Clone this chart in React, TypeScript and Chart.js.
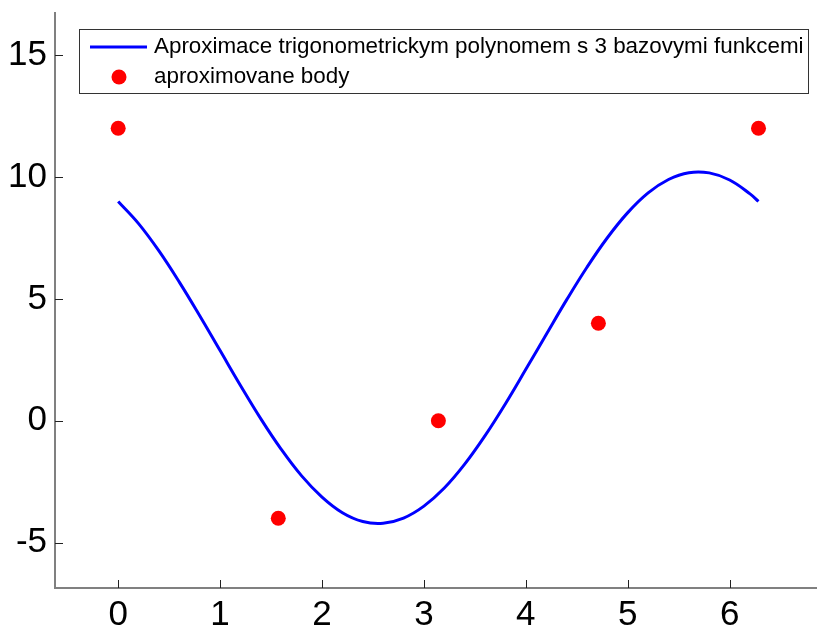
import React, { useEffect, useRef } from "react";
import { Chart, registerables } from "chart.js";

Chart.register(...registerables);

// Approximating curve sampled along x
const curveX = [
  0, 0.2, 0.4, 0.6, 0.8, 1.0, 1.2, 1.4, 1.6, 1.8, 2.0, 2.2, 2.4, 2.6, 2.8, 3.0,
  3.2, 3.4, 3.6, 3.8, 4.0, 4.2, 4.4, 4.6, 4.8, 5.0, 5.2, 5.4, 5.6, 5.8, 6.0, 6.2, 6.283,
];
const curveY = [
  9.0, 8.09, 6.97, 5.69, 4.31, 2.88, 1.45, 0.08, -1.17, -2.26, -3.13, -3.77, -4.13,
  -4.2, -3.99, -3.5, -2.76, -1.78, -0.61, 0.7, 2.11, 3.54, 4.96, 6.3, 7.51, 8.54,
  9.35, 9.9, 10.18, 10.17, 9.88, 9.31, 9.0,
];

// Approximated points
const pointX = [0, 1.571, 3.142, 4.712, 6.283];
const pointY = [12, -4, 0, 4, 12];

const xTicks = [0, 1, 2, 3, 4, 5, 6];
const yTicks = [-5, 0, 5, 10, 15];

const legendLabels = [
  "Aproximace trigonometrickym polynomem s 3 bazovymi funkcemi",
  "aproximovane body",
];

const FONT = '"Liberation Sans", Arial, Helvetica, sans-serif';

const innerTicksAndLegend = {
  id: "innerTicksAndLegend",
  afterDraw(chart: any) {
    const ctx = chart.ctx;
    const xs = chart.scales.x;
    const ys = chart.scales.y;
    const area = chart.chartArea;
    ctx.save();
    // inward tick marks
    ctx.strokeStyle = "#222";
    ctx.lineWidth = 1;
    ctx.beginPath();
    xTicks.forEach((v) => {
      const px = Math.round(xs.getPixelForValue(v)) + 0.5;
      ctx.moveTo(px, area.bottom);
      ctx.lineTo(px, area.bottom - 8);
    });
    yTicks.forEach((v) => {
      const py = Math.round(ys.getPixelForValue(v)) + 0.5;
      ctx.moveTo(area.left, py);
      ctx.lineTo(area.left + 8, py);
    });
    ctx.stroke();

    // legend box
    const bx = 79.5, by = 29.5, bw = 729, bh = 64;
    ctx.fillStyle = "#fff";
    ctx.fillRect(bx, by, bw, bh);
    ctx.strokeStyle = "#333";
    ctx.lineWidth = 1;
    ctx.strokeRect(bx, by, bw, bh);

    // line sample
    ctx.strokeStyle = "#0000ff";
    ctx.lineWidth = 3;
    ctx.beginPath();
    ctx.moveTo(90, 47);
    ctx.lineTo(147, 47);
    ctx.stroke();

    // marker sample
    ctx.fillStyle = "#ff0000";
    ctx.beginPath();
    ctx.arc(119, 77, 7.5, 0, Math.PI * 2);
    ctx.fill();

    ctx.fillStyle = "#000";
    ctx.font = `22.4px ${FONT}`;
    ctx.textBaseline = "middle";
    ctx.textAlign = "left";
    ctx.fillText(legendLabels[0], 154, 47);
    ctx.fillText(legendLabels[1], 154, 77);
    ctx.restore();
  },
};

export default function App() {
  const canvasRef = useRef<HTMLCanvasElement | null>(null);

  useEffect(() => {
    document.body.style.margin = "0";
    const canvas = canvasRef.current;
    if (!canvas) return;
    const chart = new Chart(canvas, {
      type: "scatter",
      data: {
        datasets: [
          {
            label: legendLabels[0],
            data: curveX.map((x, i) => ({ x, y: curveY[i] })),
            showLine: true,
            borderColor: "#0000ff",
            borderWidth: 3,
            pointRadius: 0,
            tension: 0.4,
            fill: false,
          },
          {
            label: legendLabels[1],
            data: pointX.map((x, i) => ({ x, y: pointY[i] })),
            showLine: false,
            pointRadius: 7.5,
            pointBackgroundColor: "#ff0000",
            pointBorderColor: "#ff0000",
            pointBorderWidth: 0,
          },
        ],
      },
      options: {
        animation: false,
        responsive: false,
        devicePixelRatio: 1,
        layout: { autoPadding: false, padding: { top: 13, right: 0, left: 0, bottom: 0 } },
        plugins: {
          legend: { display: false },
          tooltip: { enabled: false },
        },
        scales: {
          x: {
            type: "linear",
            min: -0.62,
            max: 6.857,
            afterFit(scale: any) {
              scale.height = 42;
              scale.paddingLeft = 0;
              scale.paddingRight = 0;
            },
            afterBuildTicks(scale: any) {
              scale.ticks = xTicks.map((v) => ({ value: v }));
            },
            grid: { display: false, drawTicks: false },
            border: { display: true, color: "#808080", width: 2 },
            ticks: {
              color: "#000",
              font: { family: FONT, size: 35 },
              padding: 6,
              maxRotation: 0,
              callback: (v: any) => String(v),
            },
          },
          y: {
            type: "linear",
            min: -6.86,
            max: 16.73,
            afterFit(scale: any) {
              scale.width = 55;
              scale.paddingTop = 0;
              scale.paddingBottom = 0;
            },
            afterBuildTicks(scale: any) {
              scale.ticks = yTicks.map((v) => ({ value: v }));
            },
            grid: { display: false, drawTicks: false },
            border: { display: true, color: "#808080", width: 2 },
            ticks: {
              color: "#000",
              font: { family: FONT, size: 35 },
              padding: 8,
              callback: (v: any) => String(v),
            },
          },
        },
      },
      plugins: [innerTicksAndLegend],
    });
    return () => chart.destroy();
  }, []);

  return (
    <div style={{ width: 817, height: 630, position: "relative" }}>
      <canvas ref={canvasRef} width={817} height={630} />
    </div>
  );
}
